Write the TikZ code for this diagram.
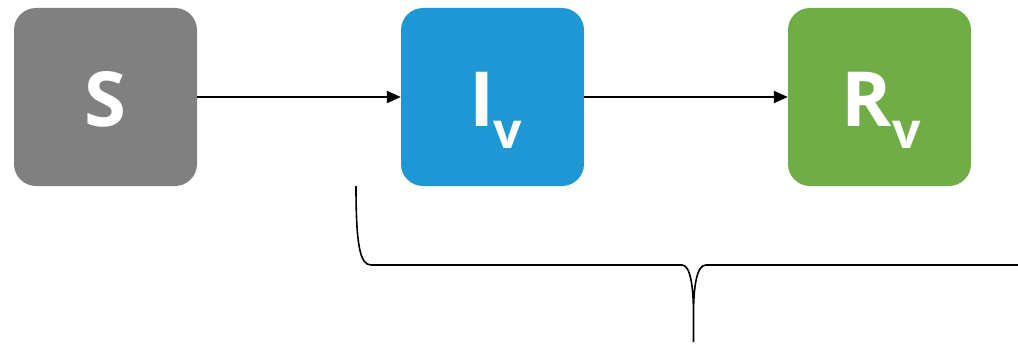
\documentclass[tikz,border=0pt]{standalone}
\usepackage{fontspec}
\setmainfont{Open Sans}
\usetikzlibrary{arrows.meta}
\definecolor{boxgray}{HTML}{808080}
\definecolor{boxblue}{HTML}{1E98D5}
\definecolor{boxgreen}{HTML}{70AD47}
\tikzset{
  compartment/.style={rounded corners=22pt, minimum width=183pt, minimum height=178pt,
    inner sep=0pt, text=white, text height=58pt, text depth=0pt,
    font=\fontsize{76pt}{76pt}\selectfont\bfseries},
  flow/.style={line width=2.2pt, -{Triangle[length=14pt,width=12pt]}},
  bracket/.style={line width=1.6pt, black}
}
\newcommand{\subv}{\raisebox{-22pt}{\fontsize{50pt}{50pt}\selectfont\bfseries v}}
\begin{document}
\begin{tikzpicture}[x=1pt,y=-1pt]
  \useasboundingbox (0,0) rectangle (1018,345);
  % compartments
  \node[compartment, fill=boxgray]  (S) at (105.5,97) {S};
  \node[compartment, fill=boxblue]  (I) at (492.5,97) {\hspace*{7pt}I\kern-1pt\subv};
  \node[compartment, fill=boxgreen] (R) at (879.5,97) {\hspace*{3pt}R\kern1pt\subv};
  % transitions
  \draw[flow] (S.east) -- (I.west);
  \draw[flow] (I.east) -- (R.west);
  % brace under the vaccinated compartments
  \coordinate (b0) at (356,186);
  \coordinate (b1) at (371,265);
  \coordinate (b2) at (682,265);
  \coordinate (tip) at (693.5,342);
  \coordinate (b3) at (706,265);
  \coordinate (b4) at (1018,265);
  \draw[bracket] (b0) .. controls (356,245) and (360,265) .. (b1)
    -- (b2) .. controls (690,265) and (693.5,285) .. (693.5,315) -- (tip)
    (693.5,315) .. controls (693.5,285) and (697,265) .. (b3) -- (b4);
\end{tikzpicture}
\end{document}
